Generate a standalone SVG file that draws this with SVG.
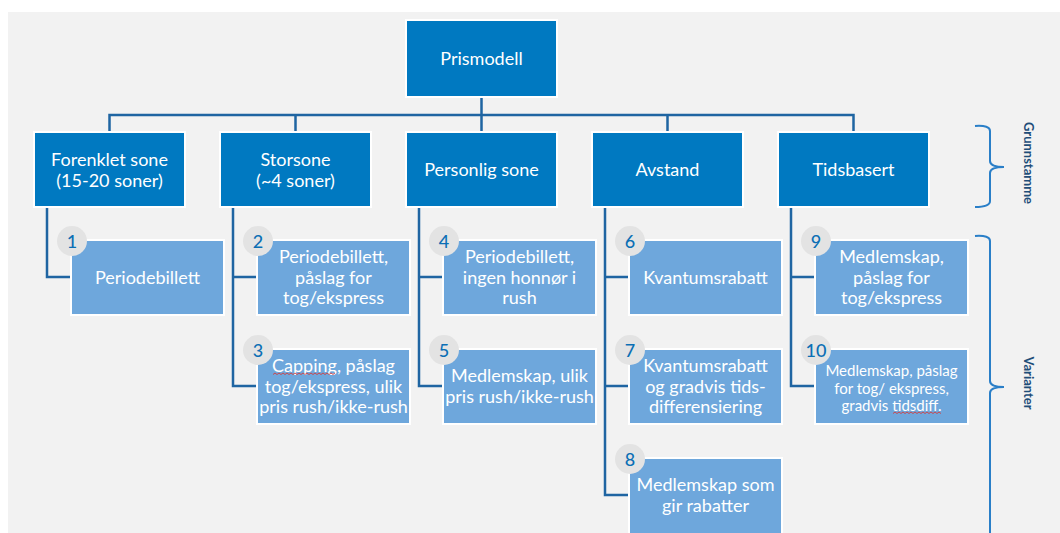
<svg xmlns="http://www.w3.org/2000/svg" width="1060" height="533" viewBox="0 0 1060 533">
<style>
.bg{fill:#f2f2f2}
.p{fill:#0079c1;stroke:#fff;stroke-width:2}
.c{fill:#6ea7dc;stroke:#fff;stroke-width:2}
.t{font-family:Lato,"Open Sans",sans-serif;font-size:18px;fill:#fff;text-anchor:middle}
.s{font-size:15px}
.b{fill:#e3e3e3}
.n{font-family:Lato,"Open Sans",sans-serif;font-size:18px;font-weight:500;fill:#0b6fb5;text-anchor:middle}
.ln{fill:none;stroke:#1f65a2;stroke-width:2.5}
.br{fill:none;stroke:#2a7fc8;stroke-width:2}
.lbl{font-family:Lato,"Open Sans",sans-serif;font-size:13px;font-weight:bold;fill:#1f4e79;text-anchor:middle}
.sp{fill:none;stroke:#e0302a;stroke-width:0.8}
</style>
<rect class="bg" x="8" y="12" width="1052" height="521"/>
<g id="connectors">
<path class="ln" d="M481.5 97V132M109.5 132V115H853.5V132M295.5 115V132M667.5 115V132"/>
<path class="ln" d="M47 207V277H71"/>
<path class="ln" d="M233 207V386H257M233 277H257"/>
<path class="ln" d="M419 207V386H443M419 277H443"/>
<path class="ln" d="M605 207V495H629M605 277H629M605 386H629"/>
<path class="ln" d="M791 207V386H815M791 277H815"/>
</g>
<g id="prismodell"><rect class="p" x="406" y="20" width="151" height="77"/><text class="t" x="481.5" y="65">Prismodell</text></g>
<g id="forenklet"><rect class="p" x="34" y="132" width="151" height="75"/><text class="t" x="109.5" y="165.5">Forenklet sone</text><text class="t" x="109.5" y="186.5">(15-20 soner)</text></g>
<g id="storsone"><rect class="p" x="220" y="132" width="151" height="75"/><text class="t" x="295.5" y="165.5">Storsone</text><text class="t" x="295.5" y="186.5">(~4 soner)</text></g>
<g id="personlig"><rect class="p" x="406" y="132" width="151" height="75"/><text class="t" x="481.5" y="176">Personlig sone</text></g>
<g id="avstand"><rect class="p" x="592" y="132" width="151" height="75"/><text class="t" x="667.5" y="176">Avstand</text></g>
<g id="tidsbasert"><rect class="p" x="778" y="132" width="151" height="75"/><text class="t" x="853.5" y="176">Tidsbasert</text></g>

<g id="v1"><rect class="c" x="71" y="240" width="153" height="75"/><text class="t" x="147.5" y="283.5">Periodebillett</text><circle class="b" cx="72" cy="241" r="15"/><text class="n" x="72" y="247.5">1</text></g>
<g id="v2"><rect class="c" x="257" y="240" width="153" height="75"/><text class="t" x="333.5" y="263">Periodebillett,</text><text class="t" x="333.5" y="283.5">påslag for</text><text class="t" x="333.5" y="304">tog/ekspress</text><circle class="b" cx="258" cy="241" r="15"/><text class="n" x="258" y="247.5">2</text></g>
<g id="v3"><rect class="c" x="257" y="349" width="153" height="75"/><text class="t" x="333.5" y="372">Capping, påslag</text><text class="t" x="333.5" y="392.5">tog/ekspress, ulik</text><text class="t" x="333.5" y="413">pris rush/ikke-rush</text><path class="sp" d="M273 374.5l2-1.5 2 1.5 2-1.5 2 1.5 2-1.5 2 1.5 2-1.5 2 1.5 2-1.5 2 1.5 2-1.5 2 1.5 2-1.5 2 1.5 2-1.5 2 1.5 2-1.5 2 1.5 2-1.5 2 1.5 2-1.5 2 1.5 2-1.5 2 1.5 2-1.5 2 1.5 2-1.5 2 1.5 2-1.5 2 1.5 2-1.5"/><circle class="b" cx="258" cy="350" r="15"/><text class="n" x="258" y="356.5">3</text></g>
<g id="v4"><rect class="c" x="443" y="240" width="153" height="75"/><text class="t" x="519.5" y="263">Periodebillett,</text><text class="t" x="519.5" y="283.5">ingen honnør i</text><text class="t" x="519.5" y="304">rush</text><circle class="b" cx="444" cy="241" r="15"/><text class="n" x="444" y="247.5">4</text></g>
<g id="v5"><rect class="c" x="443" y="349" width="153" height="75"/><text class="t" x="519.5" y="382">Medlemskap, ulik</text><text class="t" x="519.5" y="402.5">pris rush/ikke-rush</text><circle class="b" cx="444" cy="350" r="15"/><text class="n" x="444" y="356.5">5</text></g>
<g id="v6"><rect class="c" x="629" y="240" width="153" height="75"/><text class="t" x="705.5" y="283.5">Kvantumsrabatt</text><circle class="b" cx="630" cy="241" r="15"/><text class="n" x="630" y="247.5">6</text></g>
<g id="v7"><rect class="c" x="629" y="349" width="153" height="75"/><text class="t" x="705.5" y="372">Kvantumsrabatt</text><text class="t" x="705.5" y="392.5">og gradvis tids-</text><text class="t" x="705.5" y="413">differensiering</text><circle class="b" cx="630" cy="350" r="15"/><text class="n" x="630" y="356.5">7</text></g>
<g id="v8"><rect class="c" x="629" y="458" width="153" height="85"/><text class="t" x="705.5" y="491">Medlemskap som</text><text class="t" x="705.5" y="511.5">gir rabatter</text><circle class="b" cx="630" cy="459" r="15"/><text class="n" x="630" y="465.5">8</text></g>
<g id="v9"><rect class="c" x="815" y="240" width="153" height="75"/><text class="t" x="891.5" y="263">Medlemskap,</text><text class="t" x="891.5" y="283.5">påslag for</text><text class="t" x="891.5" y="304">tog/ekspress</text><circle class="b" cx="816" cy="241" r="15"/><text class="n" x="816" y="247.5">9</text></g>
<g id="v10"><rect class="c" x="815" y="349" width="153" height="75"/><text class="t s" x="891.5" y="376">Medlemskap, påslag</text><text class="t s" x="891.5" y="393.5">for tog/ ekspress,</text><text class="t s" x="891.5" y="411">gradvis tidsdiff.</text><path class="sp" d="M893 413.5l2-1.5 2 1.5 2-1.5 2 1.5 2-1.5 2 1.5 2-1.5 2 1.5 2-1.5 2 1.5 2-1.5 2 1.5 2-1.5 2 1.5 2-1.5 2 1.5 2-1.5 2 1.5 2-1.5 2 1.5 2-1.5 2 1.5 2-1.5 2 1.5"/><circle class="b" cx="816" cy="350" r="15"/><text class="n" x="816" y="356.5">10</text></g>

<g id="grunnstamme">
<path class="br" d="M975 126Q990 125 990 131V161Q990 167 1004 167Q990 167 990 173V201Q990 207 975 207"/>
<text class="lbl" x="1029" y="163" transform="rotate(90 1029 163)" dominant-baseline="central">Grunnstamme</text>
</g>
<g id="varianter">
<path class="br" d="M975 236Q990 235 990 241V381Q990 387 1004 387Q990 387 990 393V540"/>
<text class="lbl" x="1029" y="383" transform="rotate(90 1029 383)" dominant-baseline="central">Varianter</text>
</g>
</svg>
